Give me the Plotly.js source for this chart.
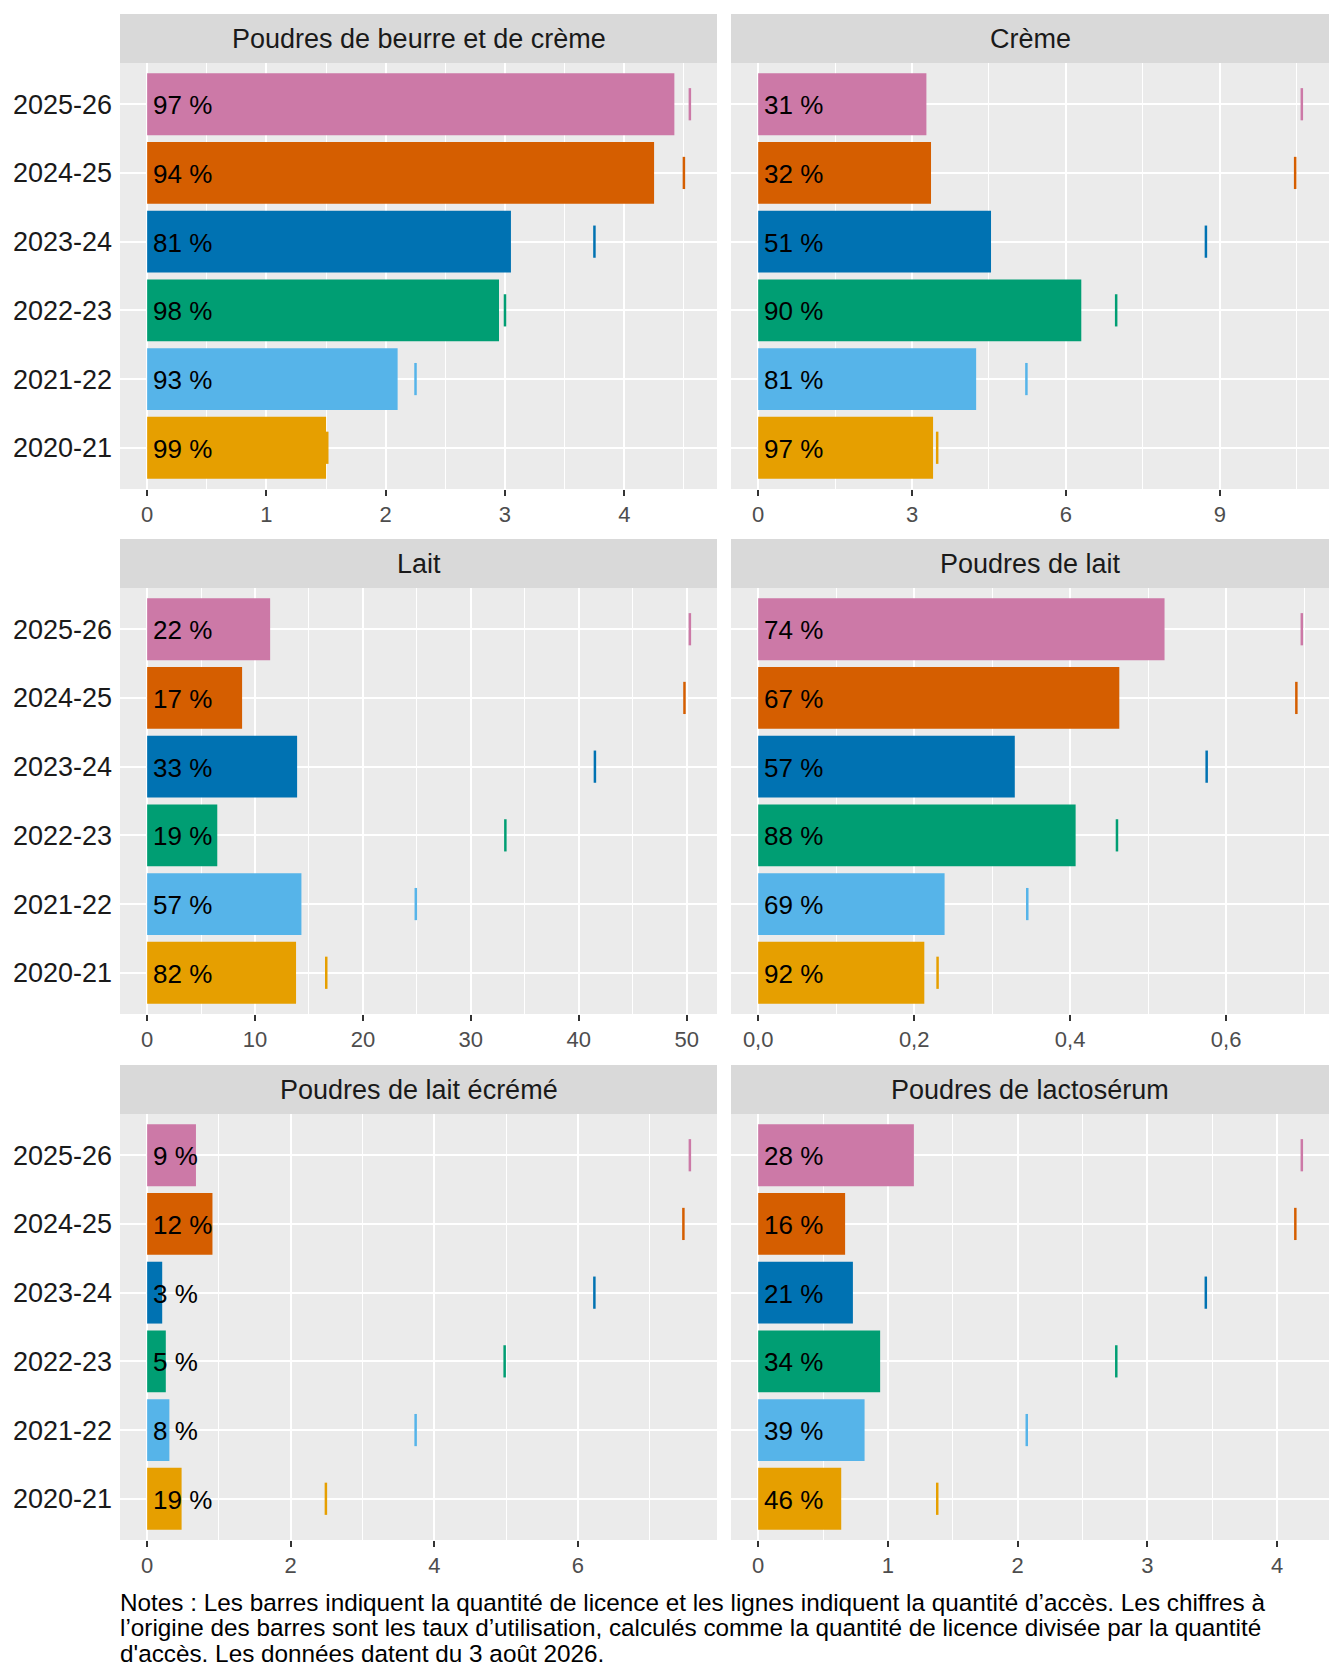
<!DOCTYPE html>
<html>
<head>
<meta charset="utf-8">
<script src="https://cdn.plot.ly/plotly-3.0.1.min.js"></script>
<style>
  html, body { margin: 0; padding: 0; background: #fff; }
  #plot { width: 1344px; height: 1680px; }
</style>
</head>
<body>
<div id="plot"></div>
<script>
// years bottom to top, one colour per year
const years = ['2020-21', '2021-22', '2022-23', '2023-24', '2024-25', '2025-26'];
const yearColors = ['#E69F00', '#56B4E9', '#009E73', '#0072B2', '#D55E00', '#CC79A7'];

const panelTitles = [
    'Poudres de beurre et de crème', 'Crème',
    'Lait', 'Poudres de lait',
    'Poudres de lait écrémé', 'Poudres de lactosérum'
];

// licence quantity (bars), access quantity (ticks), utilisation rate (%)
const beurreLicence = [1.50, 2.10, 2.95, 3.05, 4.25, 4.42];
const beurreAcces = [1.51, 2.25, 3.00, 3.75, 4.50, 4.55];
const beurreTaux = [99, 93, 98, 81, 94, 97];

const cremeLicence = [3.41, 4.25, 6.30, 4.54, 3.37, 3.28];
const cremeAcces = [3.49, 5.23, 6.98, 8.73, 10.47, 10.60];
const cremeTaux = [97, 81, 90, 51, 32, 31];

const laitLicence = [13.8, 14.3, 6.5, 13.9, 8.8, 11.4];
const laitAcces = [16.6, 24.9, 33.2, 41.5, 49.8, 50.3];
const laitTaux = [82, 57, 19, 33, 17, 22];

const poudreLaitLicence = [0.213, 0.239, 0.407, 0.329, 0.463, 0.521];
const poudreLaitAcces = [0.230, 0.345, 0.460, 0.575, 0.690, 0.697];
const poudreLaitTaux = [92, 69, 88, 57, 67, 74];

const ecremeLicence = [0.48, 0.31, 0.26, 0.21, 0.91, 0.68];
const ecremeAcces = [2.49, 3.74, 4.98, 6.23, 7.47, 7.56];
const ecremeTaux = [19, 8, 5, 3, 12, 9];

const lactoLicence = [0.64, 0.82, 0.94, 0.73, 0.67, 1.20];
const lactoAcces = [1.38, 2.07, 2.76, 3.45, 4.14, 4.19];
const lactoTaux = [46, 39, 34, 21, 16, 28];

const tickSteps = [1, 3, 10, 0.2, 2, 1];

const noteLines = [
    'Notes : Les barres indiquent la quantité de licence et les lignes indiquent la quantité d’accès. Les chiffres à',
    'l’origine des barres sont les taux d’utilisation, calculés comme la quantité de licence divisée par la quantité',
    'd\'accès. Les données datent du 3 août 2026.'
];

const panels = [
    {licence: beurreLicence, acces: beurreAcces, taux: beurreTaux},
    {licence: cremeLicence, acces: cremeAcces, taux: cremeTaux},
    {licence: laitLicence, acces: laitAcces, taux: laitTaux},
    {licence: poudreLaitLicence, acces: poudreLaitAcces, taux: poudreLaitTaux},
    {licence: ecremeLicence, acces: ecremeAcces, taux: ecremeTaux},
    {licence: lactoLicence, acces: lactoAcces, taux: lactoTaux},
];

const W = 1344, H = 1680;
const FONT = 'Liberation Sans, Arial, sans-serif';
// panel geometry in pixels
const colX = [[120, 717], [731, 1329]];
const rowTop = [14, 539, 1065];   // strip top
const stripH = 49;
const plotH = 426;

let data = [];
let layout = {
    width: W,
    height: H,
    margin: {l: 0, r: 0, t: 0, b: 0},
    paper_bgcolor: '#FFFFFF',
    plot_bgcolor: '#EBEBEB',
    showlegend: false,
    separators: ', ',
    font: {family: FONT, color: '#1A1A1A'},
    shapes: [],
    annotations: [],
};

panels.forEach(function (p, i) {
    const n = i + 1;
    const col = i % 2;
    const row = Math.floor(i / 2);
    const xa = 'x' + (n === 1 ? '' : n);
    const ya = 'y' + (n === 1 ? '' : n);
    const xKey = 'xaxis' + (n === 1 ? '' : n);
    const yKey = 'yaxis' + (n === 1 ? '' : n);

    const x0 = colX[col][0] / W, x1 = colX[col][1] / W;
    const plotTop = rowTop[row] + stripH;
    const yTop = 1 - plotTop / H;
    const yBot = 1 - (plotTop + plotH) / H;
    const maxVal = Math.max(...p.acces, ...p.licence);

    data.push({
        type: 'bar',
        orientation: 'h',
        x: p.licence,
        y: years,
        width: 0.9,
        marker: {color: yearColors},
        xaxis: xa,
        yaxis: ya,
        hoverinfo: 'x+y',
    });
    data.push({
        type: 'scatter',
        mode: 'markers',
        x: p.acces,
        y: years,
        marker: {
            symbol: 'line-ns',
            size: 23,
            line: {width: 2.5, color: yearColors},
        },
        xaxis: xa,
        yaxis: ya,
        hoverinfo: 'x+y',
    });

    layout[xKey] = {
        domain: [x0, x1],
        anchor: ya,
        range: [-0.05 * maxVal, 1.05 * maxVal],
        dtick: tickSteps[i],
        tick0: 0,
        tickformat: tickSteps[i] < 1 ? '.1f' : '',
        showgrid: true,
        gridcolor: '#FFFFFF',
        gridwidth: 2,
        minor: {dtick: tickSteps[i] / 2, showgrid: true, gridcolor: '#FFFFFF', gridwidth: 1},
        zeroline: false,
        showline: false,
        ticks: 'outside',
        ticklen: 6,
        tickwidth: 2,
        tickcolor: '#333333',
        tickfont: {size: 22, color: '#4D4D4D', family: FONT},
        fixedrange: true,
    };
    layout[yKey] = {
        domain: [yBot, yTop],
        anchor: xa,
        type: 'category',
        categoryorder: 'array',
        categoryarray: years,
        range: [-0.6, years.length - 0.4],
        showgrid: true,
        gridcolor: '#FFFFFF',
        gridwidth: 2,
        zeroline: false,
        showline: false,
        ticks: '',
        showticklabels: col === 0,
        ticklabelstandoff: 7,
        tickfont: {size: 27, color: '#1A1A1A', family: FONT},
        fixedrange: true,
    };

    // strip header
    layout.shapes.push({
        type: 'rect',
        xref: 'paper', yref: 'paper',
        x0: x0, x1: x1,
        y0: 1 - (rowTop[row] + stripH) / H,
        y1: 1 - rowTop[row] / H,
        fillcolor: '#D9D9D9',
        line: {width: 0},
        layer: 'below',
    });
    layout.annotations.push({
        xref: 'paper', yref: 'paper',
        x: (x0 + x1) / 2,
        y: 1 - (rowTop[row] + stripH / 2) / H,
        text: panelTitles[i],
        showarrow: false,
        xanchor: 'center', yanchor: 'middle',
        font: {size: 27, color: '#1A1A1A', family: FONT},
    });

    // rate labels at the bar origin
    years.forEach(function (yr, k) {
        layout.annotations.push({
            xref: xa, yref: ya,
            x: 0, y: yr,
            text: p.taux[k] + ' %',
            showarrow: false,
            xanchor: 'left', yanchor: 'middle',
            xshift: 4,
            yshift: -1,
            font: {size: 26, color: '#000000', family: FONT},
        });
    });
});

noteLines.forEach(function (line, k) {
    layout.annotations.push({
        xref: 'paper', yref: 'paper',
        x: 118 / W, y: 1 - (1602 + k * 25.7) / H,
        xanchor: 'left', yanchor: 'middle',
        align: 'left',
        text: line,
        showarrow: false,
        font: {size: 24.3, color: '#000000', family: FONT},
    });
});

Plotly.newPlot('plot', data, layout, {displayModeBar: false, staticPlot: true});
</script>
</body>
</html>
